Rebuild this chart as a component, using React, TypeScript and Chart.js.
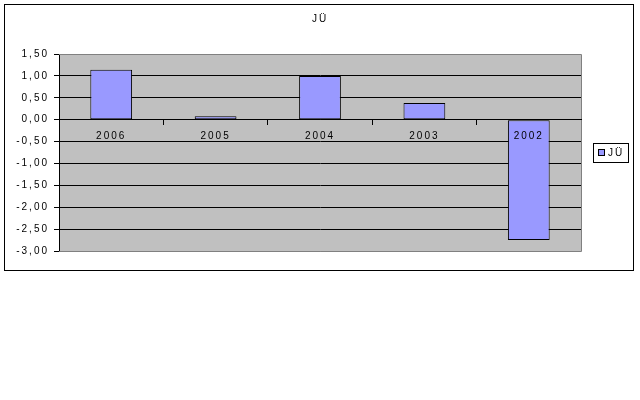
import React, { useEffect, useRef } from 'react';
import { Chart, registerables } from 'chart.js';

Chart.register(...registerables);

const title = 'JÜ';
const seriesName = 'JÜ';
const years = ['2006', '2005', '2004', '2003', '2002'];
const values = [1.14, 0.08, 1.0, 0.38, -2.75];
const yMin = -3;
const yMax = 1.5;
const yStep = 0.5;

const FONT = '"Liberation Sans", Arial, sans-serif';

// Excel-like frame: gray plot area, title and a boxed legend on the right
const excelLook = {
  id: 'excelLook',
  beforeLayout(chart: any) {
    chart.ctx.letterSpacing = '2px';
  },
  beforeDraw(chart: any) {
    const { ctx, chartArea: a } = chart;
    ctx.letterSpacing = '2px';
    ctx.save();
    ctx.fillStyle = '#c0c0c0';
    ctx.fillRect(a.left, a.top, a.right - a.left, a.bottom - a.top);
    ctx.restore();
  },
  beforeDatasetsDraw(chart: any) {
    const { ctx, chartArea: a } = chart;
    ctx.save();
    ctx.strokeStyle = '#808080';
    ctx.lineWidth = 1;
    ctx.beginPath();
    ctx.moveTo(a.left, a.top + 0.5);
    ctx.lineTo(a.right + 0.5, a.top + 0.5);
    ctx.lineTo(a.right + 0.5, a.bottom + 0.5);
    ctx.lineTo(a.left, a.bottom + 0.5);
    ctx.stroke();
    ctx.restore();
  },
  afterDraw(chart: any) {
    const { ctx } = chart;
    ctx.save();
    ctx.letterSpacing = '2px';
    ctx.fillStyle = '#000';
    ctx.font = `10px ${FONT}`;
    ctx.textAlign = 'center';
    ctx.textBaseline = 'middle';
    ctx.fillText(title, chart.width / 2 + 1, 14);

    // legend
    const ds = chart.data.datasets[0];
    const lx = 588, ly = 138, lw = 35, lh = 19;
    ctx.strokeStyle = '#000';
    ctx.lineWidth = 1;
    ctx.strokeRect(lx + 0.5, ly + 0.5, lw, lh);
    ctx.fillStyle = ds.backgroundColor;
    ctx.fillRect(lx + 5.5, ly + 6.5, 6, 6);
    ctx.strokeRect(lx + 5.5, ly + 6.5, 6, 6);
    ctx.fillStyle = '#000';
    ctx.textAlign = 'left';
    ctx.fillText(ds.label, lx + 15, ly + 10);
    ctx.restore();
  },
};

const App: React.FC = () => {
  const canvasRef = useRef<HTMLCanvasElement>(null);

  useEffect(() => {
    if (!canvasRef.current) return;
    const chart = new Chart(canvasRef.current, {
      type: 'bar',
      data: {
        labels: years,
        datasets: [
          {
            label: seriesName,
            data: values,
            backgroundColor: '#9999ff',
            borderColor: '#000000',
            borderWidth: 1,
            borderSkipped: false,
            barPercentage: 0.4,
            categoryPercentage: 1,
          },
        ],
      },
      options: {
        animation: false,
        responsive: false,
        devicePixelRatio: 1,
        layout: { padding: { top: 49, right: 52, bottom: 19, left: 0 } },
        plugins: {
          legend: { display: false },
          title: { display: false },
          tooltip: { enabled: false },
        },
        scales: {
          x: {
            position: { y: 0 } as any,
            offset: true,
            grid: {
              offset: true,
              drawOnChartArea: false,
              drawTicks: true,
              tickLength: 5,
              color: '#000',
            },
            border: { display: true, color: '#000', width: 1, z: 1 },
            ticks: {
              z: 1,
              color: '#000',
              font: { family: FONT, size: 10 },
              padding: 6,
              maxRotation: 0,
              autoSkip: false,
            },
            afterFit(scale: any) {
              scale.height = 0;
            },
          },
          y: {
            min: yMin,
            max: yMax,
            grid: {
              color: (c: any) =>
                c.tick && (c.tick.value === yMin || c.tick.value === yMax) ? '#808080' : '#000',
              tickColor: '#000',
              tickLength: 5,
            },
            border: { display: true, color: '#000', width: 1 },
            ticks: {
              stepSize: yStep,
              color: '#000',
              font: { family: FONT, size: 10 },
              padding: 5,
              callback: (v: any) => Number(v).toFixed(2).replace('.', ','),
            },
            afterFit(scale: any) {
              scale.width = 54;
            },
          },
        },
      },
      plugins: [excelLook],
    });
    return () => chart.destroy();
  }, []);

  return (
    <div style={{ position: 'absolute', left: 0, top: 0, width: 640, height: 400, background: '#fff' }}>
      <div
        style={{
          position: 'absolute',
          left: 4,
          top: 4,
          width: 628,
          height: 265,
          border: '1px solid #000',
        }}
      >
        <canvas ref={canvasRef} width={628} height={265} style={{ display: 'block' }} />
      </div>
    </div>
  );
};

export default App;
